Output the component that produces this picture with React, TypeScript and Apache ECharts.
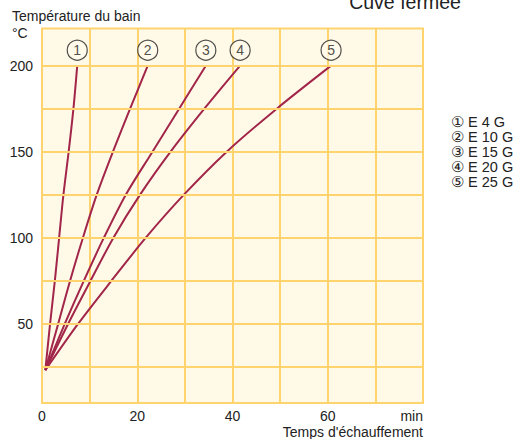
import React, { useEffect, useRef } from "react";
import * as echarts from "echarts";

// Temperature levels (°C) shared by every curve
const tempLevels = [23, 50, 75, 100, 125, 150, 175, 200];
// Heating time (min) at each temperature level
const timeE4G = [0.7, 1.7, 2.7, 3.6, 4.5, 5.6, 6.6, 7.4];
const timeE10G = [0.7, 3.4, 5.9, 8.6, 11.5, 14.9, 18.5, 22.2];
const timeE15G = [0.7, 4.8, 8.8, 13.0, 17.6, 23.2, 28.8, 34.4];
const timeE20G = [0.7, 5.5, 10.2, 15.0, 20.6, 27.0, 34.1, 41.6];
const timeE25G = [0.7, 7.6, 14.6, 21.8, 29.8, 38.8, 49.3, 60.7];

const seriesNames = ["E 4 G", "E 10 G", "E 15 G", "E 20 G", "E 25 G"];
const circled = ["①", "②", "③", "④", "⑤"];
const markerNumbers = ["1", "2", "3", "4", "5"];
const markerTemp = 209;

const yTickLabels = [50, 100, 150, 200];
const hGridValues = [25, 50, 75, 100, 125, 150, 175, 200];
const xTickLabels = [0, 20, 40, 60];

const FONT = "'Liberation Sans', Arial, sans-serif";
const GRID_COLOR = "#FFD36E";
const BG = "#FFFAE8";
const CURVE = "#A2264A";
const TEXT = "#222222";
const FS = 14;

export default function App() {
  const ref = useRef<HTMLDivElement>(null);

  useEffect(() => {
    document.body.style.margin = "0";
    if (!ref.current) return;
    const chart = echarts.init(ref.current, null, { renderer: "svg" });
    const allTimes = [timeE4G, timeE10G, timeE15G, timeE20G, timeE25G];

    const curveSeries = allTimes.map((times, i) => ({
      name: seriesNames[i],
      type: "line",
      z: 3,
      smooth: 0.3,
      symbol: "none",
      lineStyle: { color: CURVE, width: 2 },
      itemStyle: { color: CURVE },
      data: times.map((t, k) => [t, tempLevels[k]]),
    }));

    const option: any = {
      animation: false,
      textStyle: { fontFamily: FONT },
      title: {
        text: "Cuve fermée",
        left: 400,
        textAlign: "center",
        top: -13,
        textStyle: { fontSize: 19.5, fontWeight: "normal", color: TEXT, fontFamily: FONT },
      },
      legend: {
        data: seriesNames,
        orient: "vertical",
        left: 441,
        top: 109,
        icon: "none",
        itemWidth: 0,
        itemHeight: 10,
        itemGap: 0,
        selectedMode: false,
        formatter: (name: string) => circled[seriesNames.indexOf(name)] + " " + name,
        textStyle: { fontSize: 14.5, lineHeight: 14, color: TEXT, fontFamily: FONT },
      },
      grid: {
        left: 42,
        right: 97,
        top: 28.5,
        bottom: 36,
        show: true,
        backgroundColor: BG,
        borderColor: GRID_COLOR,
        borderWidth: 2,
      },
      xAxis: {
        type: "value",
        min: 0,
        max: 80,
        interval: 10,
        axisLine: { show: false },
        axisTick: { show: false },
        splitLine: { show: true, lineStyle: { color: GRID_COLOR, width: 2 } },
        axisLabel: {
          fontSize: FS,
          color: TEXT,
          fontFamily: FONT,
          margin: 6,
          alignMaxLabel: "right",
          formatter: (v: number) => {
            if (v === 80) return "min";
            return xTickLabels.indexOf(v) >= 0 ? String(v) : "";
          },
        },
      },
      yAxis: {
        type: "value",
        min: 3.9,
        max: 221.6,
        axisLine: { show: false },
        axisTick: { show: false },
        splitLine: { show: false },
        axisLabel: {
          fontSize: FS,
          color: TEXT,
          fontFamily: FONT,
          margin: 9,
          customValues: yTickLabels,
        },
      },
      graphic: [
        {
          type: "text",
          left: 12,
          top: 9,
          style: { text: "Température du bain", fontSize: FS, fill: TEXT, fontFamily: FONT },
        },
        {
          type: "text",
          left: 12,
          top: 26,
          style: { text: "°C", fontSize: FS, fill: TEXT, fontFamily: FONT },
        },
        {
          type: "text",
          right: 97,
          top: 425,
          style: { text: "Temps d'échauffement", fontSize: FS, fill: TEXT, fontFamily: FONT },
        },
      ],
      series: [
        {
          type: "line",
          z: 1,
          data: [],
          silent: true,
          markLine: {
            silent: true,
            symbol: "none",
            label: { show: false },
            lineStyle: { color: GRID_COLOR, width: 2, type: "solid" },
            data: hGridValues.map((v) => ({ yAxis: v })),
          },
        },
        ...curveSeries,
        {
          type: "scatter",
          z: 4,
          symbol: "circle",
          symbolSize: 20,
          silent: true,
          itemStyle: { color: BG, borderColor: TEXT, borderWidth: 1.2 },
          label: {
            show: true,
            position: "inside",
            fontSize: 14,
            color: TEXT,
            fontFamily: FONT,
            formatter: (p: any) => markerNumbers[p.dataIndex],
          },
          data: allTimes.map((times) => [times[times.length - 1], markerTemp]),
        },
      ],
    };

    chart.setOption(option);
    return () => chart.dispose();
  }, []);

  return <div ref={ref} style={{ width: 520, height: 439 }} />;
}
